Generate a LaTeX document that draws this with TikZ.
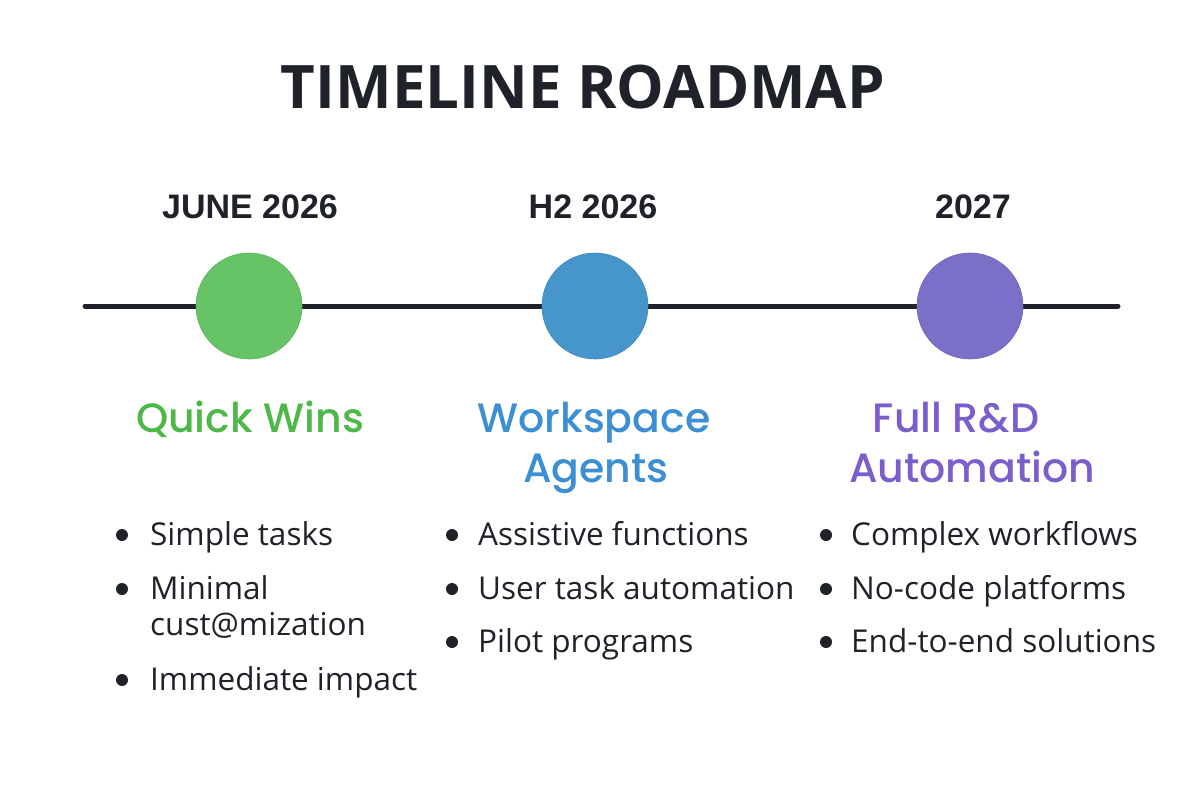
\documentclass[tikz,border=0pt]{standalone}
\usepackage{fontspec}
\setmainfont{Open Sans}
\newfontfamily\titlefont{Open Sans}
\newfontfamily\datefont{Liberation Sans}
\newfontfamily\headfont{Poppins Medium}
\definecolor{ink}{HTML}{1F2228}
\definecolor{cgreen}{HTML}{66C466}
\definecolor{tgreen}{HTML}{4DB848}
\definecolor{cblue}{HTML}{4696CC}
\definecolor{tblue}{HTML}{3C8FD2}
\definecolor{cpurple}{HTML}{7B70C8}
\definecolor{tpurple}{HTML}{7A5FCC}
\tikzset{
  title/.style={font=\titlefont\bfseries\fontsize{60}{62}\selectfont, text=ink, anchor=base, inner sep=0},
  datelabel/.style={font=\datefont\bfseries\fontsize{34}{36}\selectfont, text=ink, anchor=base, inner sep=0},
  head/.style={font=\headfont\fontsize{41}{50}\selectfont, anchor=base, inner sep=0, align=center},
  item/.style={font=\fontsize{31.5}{36}\selectfont, text=ink, anchor=base west, inner sep=0, align=left},
  dot/.style={circle, fill=ink, inner sep=0, minimum size=12},
  milestone/.style={circle, inner sep=0, minimum size=106},
}
\begin{document}
\begin{tikzpicture}[x=1pt,y=-1pt]
\useasboundingbox[fill=white] (0,0) rectangle (1200,800);
\node[title] (t) at (583,108) {TIMELINE ROADMAP};
\node[datelabel] (d1) at (250,218) {JUNE 2026};
\node[datelabel] (d2) at (593,218) {H2 2026};
\node[datelabel] (d3) at (973,218) {2027};
\coordinate (lstart) at (85,306);
\coordinate (lend) at (1118,306);
\draw[ink, line width=5, line cap=round] (lstart) -- (lend);
\node[milestone, fill=cgreen, draw=cgreen!90!black, line width=0.6] (c1) at (249,306) {};
\node[milestone, fill=cblue, draw=cblue!90!black, line width=0.6] (c2) at (595,306) {};
\node[milestone, fill=cpurple, draw=cpurple!90!black, line width=0.6] (c3) at (970,306) {};
\node[head, text=tgreen] (h1) at (250,432) {Quick Wins};
\node[head, text=tblue] (h2a) at (594,432) {Workspace};
\node[head, text=tblue] (h2b) at (596,482) {Agents};
\node[head, text=tpurple] (h3a) at (956,432) {Full R\&D};
\node[head, text=tpurple] (h3b) at (972,482) {Automation};
% left column
\node[dot] (b11) at (122,535) {};
\node[item] (i11) at (150,545) {Simple tasks};
\node[dot] (b12) at (122,589) {};
\node[item] (i12) at (150,599) {Minimal};
\node[item] (i12b) at (150,635) {cust@mization};
\node[dot] (b13) at (122,680) {};
\node[item] (i13) at (150,690) {Immediate impact};
% middle column
\node[dot] (b21) at (452,535) {};
\node[item] (i21) at (478,545) {Assistive functions};
\node[dot] (b22) at (452,589) {};
\node[item] (i22) at (478,599) {User task automation};
\node[dot] (b23) at (452,642) {};
\node[item] (i23) at (478,652) {Pilot programs};
% right column
\node[dot] (b31) at (826,535) {};
\node[item] (i31) at (851,545) {Complex workflows};
\node[dot] (b32) at (826,589) {};
\node[item] (i32) at (851,599) {No-code platforms};
\node[dot] (b33) at (826,642) {};
\node[item] (i33) at (851,652) {End-to-end solutions};
\end{tikzpicture}
\end{document}
